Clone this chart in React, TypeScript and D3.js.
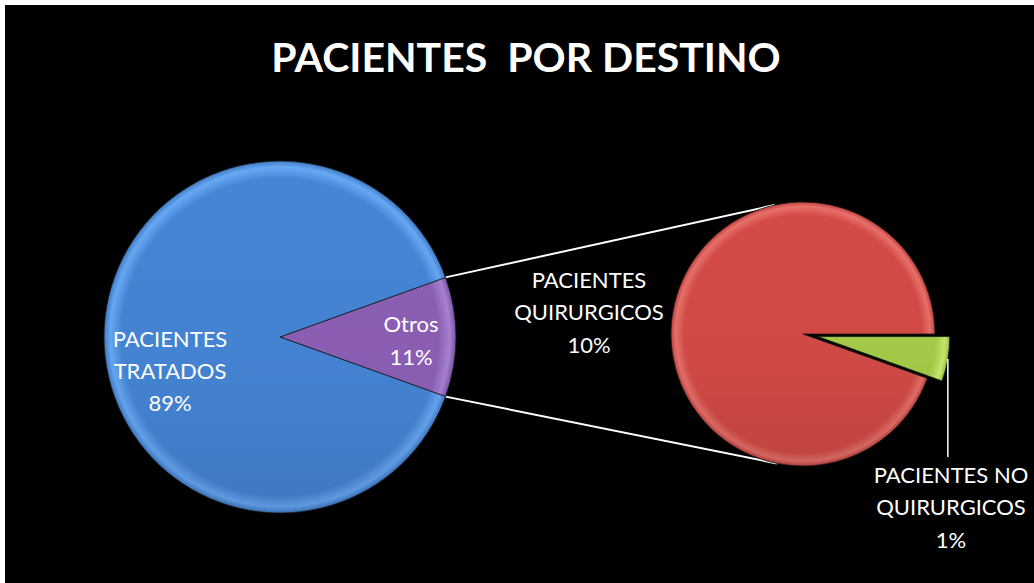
import React from "react";
import * as d3 from "d3";

const title = "PACIENTES  POR DESTINO";
const primaryCategories = ["Otros", "PACIENTES TRATADOS"];
const secondaryCategories = ["PACIENTES NO QUIRURGICOS", "PACIENTES QUIRURGICOS"];
const tratadosValue = 89;
const secondaryValues = [0.6, 10.4];
const percentLabels = ["89%", "11%", "10%", "1%"];

const W = 1034;
const H = 583;

export default function App() {
  const otrosValue = d3.sum(secondaryValues);
  const primaryValues = [otrosValue, tratadosValue];
  const total = d3.sum(primaryValues);
  const otrosFrac = otrosValue / total;

  const pc = { x: 280, y: 337 };
  const pr = 176;
  const sc = { x: 803, y: 334 };
  const sr = 132;
  const explode = 15;

  const primaryPie = d3
    .pie<number>()
    .sort(null)
    .startAngle(Math.PI / 2 - otrosFrac * Math.PI)
    .endAngle(Math.PI / 2 - otrosFrac * Math.PI + 2 * Math.PI);
  const secondaryPie = d3
    .pie<number>()
    .sort(null)
    .startAngle(Math.PI / 2)
    .endAngle(Math.PI / 2 + 2 * Math.PI);

  const pArcs = primaryPie(primaryValues);
  const sArcs = secondaryPie(secondaryValues);
  const pArc = d3.arc<d3.PieArcDatum<number>>().innerRadius(0).outerRadius(pr);
  const sArc = d3.arc<d3.PieArcDatum<number>>().innerRadius(0).outerRadius(sr);

  const pColors = ["url(#gPurple)", "url(#gBlue)"];
  const sColors = ["url(#gGreen)", "url(#gRed)"];

  const o = pArcs[0];
  const corner = (a: number) => ({ x: pc.x + pr * Math.sin(a), y: pc.y - pr * Math.cos(a) });
  const p1 = corner(o.startAngle);
  const p2 = corner(o.endAngle);
  const tangent = (p: { x: number; y: number }, sign: number) => {
    const dx = sc.x - p.x;
    const dy = sc.y - p.y;
    const d = Math.hypot(dx, dy);
    const base = Math.atan2(dy, dx);
    const alpha = Math.asin(sr / d);
    const len = Math.sqrt(d * d - sr * sr);
    const ang = base + sign * alpha;
    return { x: p.x + len * Math.cos(ang), y: p.y + len * Math.sin(ang) };
  };
  const t1 = tangent(p1, -1);
  const t2 = tangent(p2, 1);

  const g = sArcs[0];
  const gMid = (g.startAngle + g.endAngle) / 2;
  const gOff = { x: explode * Math.sin(gMid), y: -explode * Math.cos(gMid) };
  const leaderStart = {
    x: sc.x + gOff.x + sr * Math.sin(gMid),
    y: sc.y + gOff.y - sr * Math.cos(gMid),
  };

  const font = "Lato, 'Open Sans', sans-serif";
  const lbl = 22;

  const grad = (id: string, r: number, base: string, light: string, dark: string) => (
    <radialGradient id={id} gradientUnits="userSpaceOnUse" cx={0} cy={0} r={r}>
      <stop offset="0" stopColor={base} />
      <stop offset="0.9" stopColor={base} />
      <stop offset="0.965" stopColor={light} />
      <stop offset="1" stopColor={dark} />
    </radialGradient>
  );

  return (
    <svg width={W} height={H} style={{ position: "absolute", left: 0, top: 0 }}>
      <defs>
        {grad("gBlue", pr, "#4585d5", "#68a8f4", "#3f7cc8")}
        {grad("gPurple", pr, "#8c5fb5", "#a883d2", "#7d52a8")}
        {grad("gRed", sr, "#d44b46", "#e8716b", "#c2403c")}
        {grad("gGreen", sr, "#a5cc48", "#c4e670", "#94bc3c")}
        <linearGradient id="shade" x1="0" y1="0" x2="0" y2="1">
          <stop offset="0" stopColor="#000" stopOpacity="0" />
          <stop offset="0.6" stopColor="#000" stopOpacity="0.02" />
          <stop offset="1" stopColor="#000" stopOpacity="0.1" />
        </linearGradient>
      </defs>
      <rect x={0} y={0} width={W} height={H} fill="#ffffff" />
      <rect x={5} y={5} width={W - 5} height={H - 5} fill="#000000" />

      <text
        x={526}
        y={72}
        textAnchor="middle"
        fill="#ffffff"
        fontFamily={font}
        fontWeight={700}
        fontSize={41}
        style={{ whiteSpace: "pre" }}
      >
        {title}
      </text>

      <line x1={p1.x} y1={p1.y} x2={t1.x} y2={t1.y} stroke="#ffffff" strokeWidth={2} />
      <line x1={p2.x} y1={p2.y} x2={t2.x} y2={t2.y} stroke="#ffffff" strokeWidth={2} />

      <g transform={`translate(${pc.x},${pc.y})`}>
        {pArcs.map((a, i) => (
          <path key={primaryCategories[i]} d={pArc(a) || ""} fill={pColors[i]} stroke="#1b1b1b" strokeWidth={0.8} />
        ))}
        <circle r={pr} fill="url(#shade)" />
      </g>

      <g transform={`translate(${sc.x},${sc.y})`}>
        {sArcs.map((a, i) => {
          const mid = (a.startAngle + a.endAngle) / 2;
          const off = i === 0 ? explode : 0;
          return (
            <path
              key={secondaryCategories[i]}
              transform={`translate(${off * Math.sin(mid)},${-off * Math.cos(mid)})`}
              d={sArc(a) || ""}
              fill={sColors[i]}
              stroke="#1b1b1b"
              strokeWidth={0.8}
            />
          );
        })}
        <circle r={sr} fill="url(#shade)" pointerEvents="none" />
      </g>

      <line x1={leaderStart.x} y1={leaderStart.y} x2={leaderStart.x} y2={457} stroke="#ffffff" strokeWidth={1.5} />

      <g fill="#ffffff" fontFamily={font} fontSize={lbl} textAnchor="middle">
        <text x={170} y={347}>PACIENTES</text>
        <text x={170} y={379}>TRATADOS</text>
        <text x={170} y={411}>{percentLabels[0]}</text>

        <text x={411} y={332}>{primaryCategories[0]}</text>
        <text x={411} y={365}>{percentLabels[1]}</text>

        <text x={589} y={288}>PACIENTES</text>
        <text x={589} y={320}>QUIRURGICOS</text>
        <text x={589} y={353}>{percentLabels[2]}</text>

        <text x={951} y={483}>PACIENTES NO</text>
        <text x={951} y={515}>QUIRURGICOS</text>
        <text x={951} y={548}>{percentLabels[3]}</text>
      </g>
    </svg>
  );
}
